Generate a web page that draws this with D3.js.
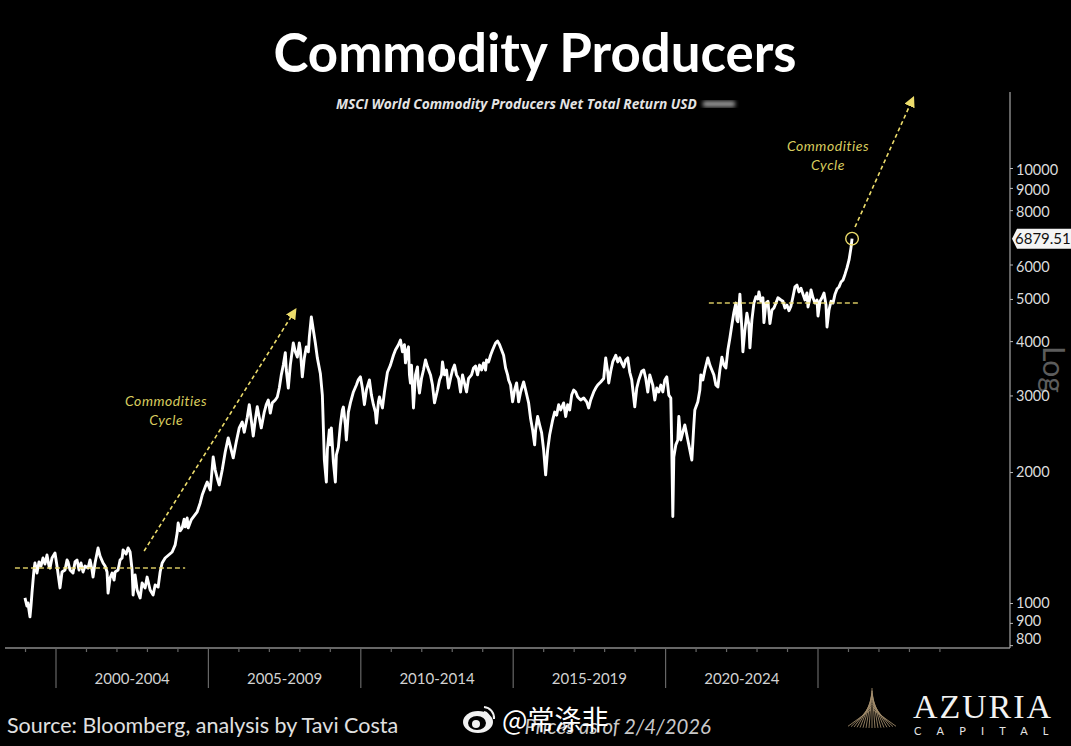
<!DOCTYPE html>
<html>
<head>
<meta charset="utf-8">
<script src="https://cdn.jsdelivr.net/npm/d3@7"></script>
<style>
    html, body { margin: 0; background: #000; overflow: hidden; }
    text { font-family: Lato, sans-serif; }
</style>
</head>
<body>
<svg id="chart" width="1071" height="746"></svg>
<script>
// [period, close] : one period is 12 days, period 0 = Jan 2000
const flatYears = [[-31,1027],[-29,984],[-28,1000],[-26,929],[-25,984],[-24,1054],[-22,1191],[-21,1236],[-19,1172],[-17,1243],[-15,1216],[-13,1269],[-11,1229],[-9,1289],[-7,1216],[-6,1203],[-4,1269],[-1,1303],[1,1216],[4,1083],[6,1178],[9,1191],[11,1256],[12,1243],[14,1191],[17,1172],[19,1243],[21,1256],[23,1191],[25,1236],[27,1178],[29,1216],[32,1203],[34,1256],[36,1191],[37,1147],[39,1236],[42,1338],[44,1282],[47,1236],[49,1216],[51,1178],[52,1054],[54,1141],[56,1172],[58,1129],[59,1178],[62,1191],[64,1256],[66,1269],[67,1324],[70,1296],[72,1338],[74,1310],[76,1191],[77,1043],[79,1160],[81,1071],[84,1027],[86,1112],[89,1083],[91,1147],[94,1071],[97,1043],[99,1100],[102,1088],[104,1178],[106,1236],[109,1269],[116,1310],[119,1360]];
const firstBoom = [[121,1448],[122,1527],[124,1465],[126,1488],[128,1559],[129,1496],[131,1568],[132,1488],[135,1552],[138,1586],[141,1620],[144,1698],[146,1771],[149,1849],[151,1897],[154,1819],[155,1918],[157,2166],[159,2021],[161,1938],[163,1868],[166,2021],[169,2224],[172,2396],[175,2248],[177,2156],[180,2344],[183,2527],[186,2607],[188,2470],[191,2669],[193,2857],[195,2634],[197,2419],[199,2634],[201,2826],[203,2669],[205,2527],[208,2747],[210,2857],[212,2929],[214,2732],[216,2884],[219,2929],[221,2976],[223,3120],[225,3345],[227,3523],[229,3762],[230,3433],[232,3120],[234,3523],[237,3960],[239,3780],[241,3675],[243,3960],[244,3817],[246,3310],[248,3660],[250,3880],[252,3780],[253,4085],[255,4545]];
const crisis2008 = [[257,4243],[259,3960],[261,3660],[264,3370],[266,3006],[267,2538],[268,2132],[270,1897],[271,2248],[273,2499],[274,2309],[275,2527],[277,2110],[279,1897],[280,2190],[282,2283],[284,2566],[286,2778],[287,2822],[289,2566],[290,2370],[292,2747],[294,2884],[297,3056],[300,3170],[302,3264],[304,3310],[306,3120],[308,2857],[310,3088],[313,3256],[315,3006],[317,2857],[319,2747],[320,2593],[322,2900],[323,2976],[326,2808],[328,3056],[331,3392],[334,3523],[337,3712],[339,3817],[342,3924],[344,4024]];
const rangeYears = [[346,3780],[348,3924],[349,3564],[351,3817],[352,3880],[353,3345],[354,3205],[355,3523],[357,2808],[359,3345],[361,3490],[362,3170],[363,3037],[365,3282],[367,3433],[369,3620],[371,3490],[374,3345],[376,3170],[378,2884],[381,3088],[383,3256],[385,3345],[386,3582],[388,3345],[390,3433],[392,3120],[394,3282],[396,3433],[398,3523],[400,3345],[402,3282],[404,3056],[406,3345],[410,3056],[412,3282],[415,3345],[417,3469],[419,3505],[421,3345],[423,3523],[425,3433],[427,3564],[429,3433],[430,3620],[432,3582],[434,3712],[436,3817],[439,3960],[441,4000],[443,3924],[445,3817],[447,3712],[449,3469],[451,3345],[452,3256],[454,3170],[456,2900],[458,3088],[460,3205],[462,2900],[464,3056],[467,3222],[469,3088],[472,2884]];
const slump2015 = [[474,2651],[476,2499],[478,2309],[479,2499],[481,2684],[483,2566],[485,2460],[487,2248],[489,1970],[491,2248],[493,2434],[494,2499],[496,2634],[498,2747],[500,2703],[502,2857],[504,2778],[507,2884],[509,2684],[511,2857],[513,2778],[515,3006],[517,3088],[519,3056],[521,2976],[524,2929],[527,2960],[530,2900],[532,2808],[534,2929],[537,3056],[539,3120],[541,3170],[544,3222],[547,3282],[548,3469],[549,3660],[551,3392],[552,3205],[554,3410],[556,3582],[559,3712],[561,3582],[563,3660],[565,3564],[567,3490],[569,3620],[571,3660],[573,3392],[575,3256],[578,2826],[580,3120],[582,3256],[585,3410],[587,3433],[589,3282],[591,3056],[593,3345],[596,3170],[598,2929],[600,3120],[602,3056],[604,3170],[606,3056],[608,3256],[610,3310],[612,3006],[614,2960]];
const crash2020 = [[615,2248],[616,1580],[617,2166],[619,2309],[621,2370],[622,2684],[624,2370],[626,2470],[628,2566],[630,2434],[632,2309],[635,2132],[637,2566],[638,2778],[641,2900],[643,3088],[644,3345],[646,3256],[648,3433],[651,3660],[653,3523],[655,3433],[657,3345],[659,3170],[661,3138],[663,3433],[665,3675],[667,3523],[669,3469],[671,3817],[673,4066],[675,4360],[677,4660],[679,4892],[680,4474],[681,4430],[683,5128],[685,4243],[686,3780],[688,4243],[690,4637],[692,4360],[693,3860],[695,4474],[697,4892]];
const plateau = [[699,5060],[701,5000],[702,5190],[704,4940],[706,5032],[707,4410],[709,4892],[711,4940],[713,4388],[715,4717],[717,4766],[719,4892],[721,5032],[724,4973],[726,4940],[728,4766],[730,4840],[732,4700],[734,4815],[736,5060],[738,5330],[740,5380],[742,5190],[744,5290],[746,5128],[748,4973],[750,5160],[751,4792],[753,5032],[754,5244],[756,5032],[758,4892],[760,4973],[761,4570],[763,4940],[765,5032],[767,5160],[769,4840],[770,4311],[772,4717],[774,4940],[776,4892]];
const breakout = [[778,5128],[780,5270],[782,5330],[784,5470],[786,5529],[788,5700],[790,5900],[792,6147],[794,6570],[795,6879.51]];

const closes = [...flatYears, ...firstBoom, ...crisis2008, ...rangeYears, ...slump2015, ...crash2020, ...plateau, ...breakout];

const yTicks = [800, 900, 1000, 2000, 3000, 4000, 5000, 6000, 8000, 9000, 10000];
const yearTicks = d3.range(1999, 2030);
const periodLabels = ["2000-2004", "2005-2009", "2010-2014", "2015-2019", "2020-2024"];
const lastClose = 6879.51;

// dashed guides, [period, close]
const supportLines = [[[-41, 1204], [129, 1204]], [[652, 4893], [802, 4893]]];
const cycleArrows = [[[88, 1317], [239, 4717]], [[798, 7318], [856, 14487]]];
const cycleLabels = [[110, 2763], [771, 10656]];

const svg = d3.select("#chart");
const YELLOW = "#ecdc6b";

const x = d3.scaleLinear().domain([0, 761]).range([56, 818]);
const y = d3.scaleLog().domain([1000, 10000]).range([603, 168]);
const yearToPeriod = yr => (yr - 2000) * 30.44;

const defs = svg.append("defs");
defs.append("filter").attr("id", "smudge").append("feGaussianBlur").attr("stdDeviation", 2.2);
defs.append("filter").attr("id", "soft").append("feGaussianBlur").attr("stdDeviation", 0.35);
defs.append("marker")
    .attr("id", "tip")
    .attr("viewBox", "0 -5 10 10")
    .attr("refX", 8)
    .attr("markerUnits", "userSpaceOnUse")
    .attr("markerWidth", 11)
    .attr("markerHeight", 11)
    .attr("orient", "auto")
    .append("path")
    .attr("d", "M0,-5L10,0L0,5Z")
    .attr("fill", YELLOW);

// TITLES
svg.append("text").attr("x", 535).attr("y", 72).attr("text-anchor", "middle")
    .attr("fill", "#fff").attr("font-size", 52.8).attr("font-weight", 700)
    .text("Commodity Producers");
svg.append("text").attr("x", 336).attr("y", 109)
    .attr("fill", "#e4e4e4").attr("font-size", 13.7).attr("font-weight", 700).attr("font-style", "italic")
    .style("font-family", "'Open Sans'")
    .text("MSCI World Commodity Producers Net Total Return USD");
svg.append("rect").attr("x", 703).attr("y", 101).attr("width", 32).attr("height", 6)
    .attr("fill", "#999").attr("filter", "url(#smudge)");

// "Log" sits behind the tick labels
svg.append("text").attr("transform", "translate(1043,346) rotate(90)")
    .attr("fill", "#5c5c5c").attr("font-size", 30).text("Log");

// X AXIS
const baseY = 648;
svg.append("line").attr("x1", 5).attr("x2", 1010).attr("y1", baseY).attr("y2", baseY)
    .attr("stroke", "#8a8a8a").attr("stroke-width", 1.3);
svg.append("g").selectAll("line").data(yearTicks).enter().append("line")
    .attr("x1", d => x(yearToPeriod(d)))
    .attr("x2", d => x(yearToPeriod(d)))
    .attr("y1", baseY)
    .attr("y2", d => d % 5 === 0 && d <= 2025 ? 688 : 652)
    .attr("stroke", "#666")
    .attr("stroke-width", 1.2);
svg.append("g").selectAll("text").data(periodLabels).enter().append("text")
    .attr("x", (d, i) => x(yearToPeriod(2002.5 + i * 5)))
    .attr("y", 684)
    .attr("text-anchor", "middle")
    .attr("fill", "#d2d2d2")
    .attr("font-size", 15)
    .text(d => d);

// Y AXIS
svg.append("line").attr("x1", 1010).attr("x2", 1010).attr("y1", 92).attr("y2", baseY)
    .attr("stroke", "#999").attr("stroke-width", 1.3);
const yAxis = svg.append("g")
    .attr("transform", "translate(1010,0)")
    .call(d3.axisRight(y).tickValues(yTicks).tickFormat(d3.format("d")).tickSize(3).tickPadding(3));
yAxis.select(".domain").remove();
yAxis.selectAll("line").attr("stroke", "#bbb");
yAxis.selectAll("text")
    .attr("fill", "#dcdcdc")
    .attr("font-size", 14.5)
    .style("font-family", "Lato")
    .attr("dy", d => d === 800 ? "-0.1em" : d === 900 ? "0.2em" : d >= 6000 ? "0.46em" : "0.34em");

// SUPPORT LINES go over the price, as do the arrows
const lineGen = d3.line().x(d => x(d[0])).y(d => y(d[1]));

svg.append("path")
    .datum(closes)
    .attr("d", lineGen)
    .attr("fill", "none")
    .attr("stroke", "#fff")
    .attr("stroke-width", 2.9)
    .attr("stroke-linejoin", "round")
    .attr("filter", "url(#soft)");

svg.append("g").selectAll("path").data(supportLines).enter().append("path")
    .attr("d", lineGen)
    .attr("stroke", YELLOW)
    .attr("stroke-width", 1.6)
    .attr("stroke-dasharray", "5,3")
    .attr("opacity", 0.9);

svg.append("g").selectAll("path").data(cycleArrows).enter().append("path")
    .attr("d", lineGen)
    .attr("stroke", YELLOW)
    .attr("stroke-width", 1.6)
    .attr("stroke-dasharray", "4,3")
    .attr("marker-end", "url(#tip)");

svg.append("circle")
    .attr("cx", x(795)).attr("cy", y(lastClose)).attr("r", 6.3)
    .attr("fill", "none").attr("stroke", YELLOW).attr("stroke-width", 1.4);

const cycleText = svg.append("g").selectAll("text").data(cycleLabels).enter().append("text")
    .attr("transform", d => `translate(${x(d[0])},${y(d[1])})`)
    .attr("text-anchor", "middle")
    .attr("fill", "#d8cc5e")
    .attr("font-size", 14)
    .attr("letter-spacing", 0.55)
    .attr("font-style", "italic");
cycleText.append("tspan").attr("x", 0).attr("y", -5).text("Commodities");
cycleText.append("tspan").attr("x", 0).attr("y", 14).text("Cycle");

// LAST PRICE TAG
const tagY = y(lastClose);
svg.append("path")
    .attr("d", `M1071,${tagY - 10}H1017L1012,${tagY}L1017,${tagY + 10}H1071Z`)
    .attr("fill", "#f4f4f4");
svg.append("text").attr("x", 1015).attr("y", tagY + 5.5)
    .attr("fill", "#111").attr("font-size", 15).text("6879.51");

// FOOTER
svg.append("text").attr("x", 7).attr("y", 733)
    .attr("fill", "#e0e0e0").attr("font-size", 21.5)
    .text("Source: Bloomberg, analysis by Tavi Costa");
svg.append("text").attr("x", 711).attr("y", 734).attr("text-anchor", "end")
    .attr("fill", "#c8c8c8").attr("font-size", 20.4).attr("font-style", "italic")
    .text("Prices as of 2/4/2026");

// WATERMARK
const mark = svg.append("g").attr("transform", "translate(478,722)");
mark.append("ellipse").attr("rx", 15).attr("ry", 11).attr("fill", "#f2f2f2");
mark.append("ellipse").attr("cx", -1).attr("cy", 1).attr("rx", 9).attr("ry", 7).attr("fill", "#000");
mark.append("circle").attr("cx", -2).attr("cy", 2).attr("r", 4).attr("fill", "#f2f2f2");
mark.append("path").attr("d", "M6,-15A11,11 0 0 1 16,-3M6,-10A6,6 0 0 1 11,-4")
    .attr("fill", "none").attr("stroke", "#f2f2f2").attr("stroke-width", 2);
svg.append("text").attr("x", 502).attr("y", 730)
    .attr("fill", "#fff").attr("font-size", 27)
    .style("font-family", "'Noto Sans CJK SC'")
    .text("@常涤非");

// AZURIA LOGO
const fanRays = d3.range(-24, 25, 3);
svg.append("g").selectAll("line").data(fanRays).enter().append("line")
    .attr("x1", d => 872 + d * 0.04).attr("y1", d => 688 + Math.abs(d) * 0.9)
    .attr("x2", d => 872 + d).attr("y2", d => 729 - d * d * 0.003 - 1)
    .attr("stroke", "#a58f6e").attr("stroke-width", 1).attr("opacity", 0.85);
svg.append("text").attr("x", 913).attr("y", 718)
    .attr("fill", "#f2f2f2").attr("font-size", 34).attr("letter-spacing", 1.9)
    .style("font-family", "'Liberation Serif'")
    .text("AZURIA");
svg.append("text").attr("x", 914).attr("y", 735)
    .attr("fill", "#e4e4e4").attr("font-size", 11).attr("letter-spacing", 15.2)
    .text("CAPITAL");
</script>
</body>
</html>
